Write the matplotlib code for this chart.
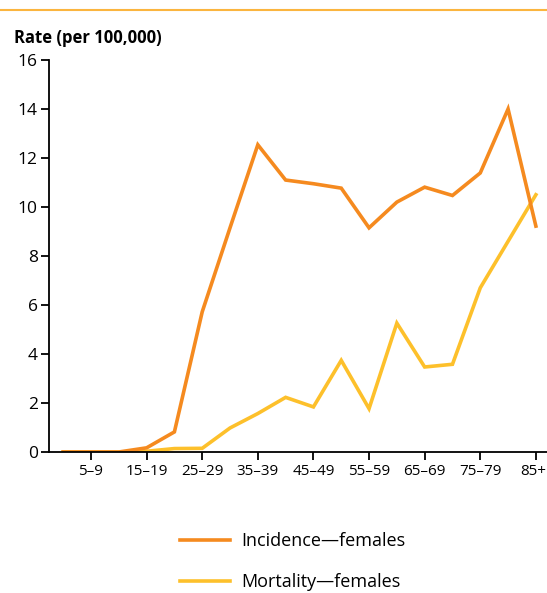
import matplotlib
matplotlib.use('Agg')
import matplotlib.pyplot as plt
from matplotlib.lines import Line2D
from matplotlib.transforms import ScaledTranslation

# Age groups and rates (per 100,000)
age_groups = ['0–4', '5–9', '10–14', '15–19', '20–24', '25–29', '30–34', '35–39',
              '40–44', '45–49', '50–54', '55–59', '60–64', '65–69', '70–74',
              '75–79', '80–84', '85+']
incidence = [0, 0, 0, 0.17, 0.82, 5.72, 9.15, 12.54, 11.1, 10.95, 10.77, 9.15,
             10.2, 10.81, 10.47, 11.39, 14.0, 9.22]
mortality = [0, 0, 0, 0.03, 0.14, 0.15, 0.98, 1.57, 2.23, 1.84, 3.74, 1.77,
             5.26, 3.47, 3.58, 6.7, 8.6, 10.5]
shown_ticks = [1, 3, 5, 7, 9, 11, 13, 15, 17]

plt.rcParams['font.family'] = ['Open Sans', 'DejaVu Sans']

orange = '#F58A1F'
yellow = '#FDC02B'

fig = plt.figure(figsize=(5.47, 5.93), dpi=100)
ax = fig.add_axes([49 / 547, 1 - 452 / 593, 1 - 49 / 547, (452 - 60) / 593])

x = list(range(len(age_groups)))
ax.plot(x, mortality, color=yellow, lw=2.6, solid_joinstyle='miter')
ax.plot(x, incidence, color=orange, lw=2.6, solid_joinstyle='miter')

ax.set_xlim(-0.51, 17.4)
ax.set_ylim(0, 16)
ax.set_yticks(range(0, 17, 2))
ax.set_xticks(shown_ticks)
ax.set_xticklabels([age_groups[i] for i in shown_ticks])

for side in ['top', 'right']:
    ax.spines[side].set_visible(False)
for side in ['left', 'bottom']:
    ax.spines[side].set_linewidth(1.3)
    ax.spines[side].set_color('black')

ax.tick_params(axis='y', length=6, width=1.3, labelsize=12.5, pad=2)
ax.tick_params(axis='x', length=6, width=1.3, labelsize=11, pad=2.5)

# last label sits at the right edge, nudge it in a little
last = ax.get_xticklabels()[-1]
last.set_transform(last.get_transform() + ScaledTranslation(-3 / 100, 0, fig.dpi_scale_trans))

fig.text(14 / 547, 1 - 38 / 593, 'Rate (per 100,000)', fontsize=12,
         fontweight='bold', va='center', ha='left')

# thin rule at the top
fig.add_artist(Line2D([0, 1], [1 - 9.5 / 593, 1 - 9.5 / 593],
                      transform=fig.transFigure, color='#FBB53F', lw=1.5))

handles = [Line2D([], [], color=orange, lw=2.6),
           Line2D([], [], color=yellow, lw=2.6)]
fig.legend(handles, ['Incidence—females', 'Mortality—females'],
           loc='center left', bbox_to_anchor=(164 / 547, 1 - 561.5 / 593),
           frameon=False, fontsize=13, handlelength=2.75, handletextpad=0.65,
           labelspacing=1.28)

fig.savefig('out.png', dpi=100)
